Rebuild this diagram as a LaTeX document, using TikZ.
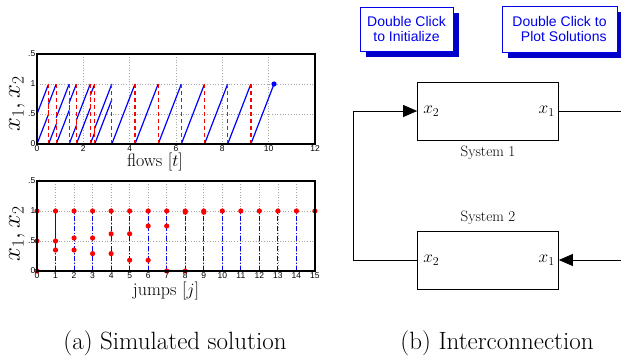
\documentclass[tikz,border=0pt]{standalone}
\usepackage{fontspec}
\newfontfamily\arialfont{Liberation Sans}
\usetikzlibrary{positioning}
\usetikzlibrary{arrows.meta}
\usetikzlibrary{shadows}
\definecolor{btnblue}{RGB}{0,0,235}
\definecolor{btnshade}{RGB}{0,0,200}
\definecolor{plotblue}{RGB}{0,0,255}
\definecolor{plotred}{RGB}{255,0,0}
\tikzset{
  gridline/.style={gray!70, dotted, line width=0.7pt},
  frameline/.style={black, line width=1.4pt},
  flowline/.style={plotblue, line width=1.2pt},
  resetline/.style={plotred, dashed, dash pattern=on 4pt off 3pt, line width=1.3pt},
  jumpflow/.style={plotblue, dash pattern=on 5pt off 2pt on 1pt off 2pt, line width=1.1pt},
  jumpdot/.style={plotred},
  ticklbl/.style={font=\arialfont\fontsize{8.5}{9}\selectfont, inner sep=1.5pt},
  axlbl/.style={font=\fontsize{18}{20}\selectfont, inner sep=0pt},
  ylbl/.style={font=\fontsize{23}{25}\selectfont, inner sep=0pt, rotate=90},
  sysblock/.style={draw, line width=0.7pt, minimum width=141pt, minimum height=58pt, inner sep=0pt},
  portlbl/.style={font=\fontsize{18}{20}\selectfont, inner sep=0pt},
  syslbl/.style={font=\fontsize{15}{17}\selectfont, inner sep=0pt},
  wire/.style={line width=0.7pt},
  btn/.style={draw=btnblue, line width=0.8pt, fill=white, text=btnblue,
    font=\arialfont\fontsize{14}{15.5}\selectfont, inner sep=0pt,
    drop shadow={shadow xshift=6pt, shadow yshift=-6pt, fill=btnshade, opacity=1}},
  capt/.style={font=\fontsize{25}{29}\selectfont, inner sep=0pt}
}
\begin{document}
\begin{tikzpicture}[x=1pt,y=-1pt]
\useasboundingbox (0,0) rectangle (621,362);
\clip (0,0) rectangle (621,362);

\begin{scope}[shift={(37,144)},x=23.17pt,y=60pt]
  \foreach \t in {2,4,...,10}
    \draw[gridline] (\t,0) -- (\t,1.5);
  \foreach \v in {0.5,1}
    \draw[gridline] (0,\v) -- (12,\v);
  \foreach \a/\b/\c/\d in {0/0.5/0.5/1, 0/0/0.5/0.5, 0.5/0/0.83/0.33, 0.5/0.67/0.83/1,
      0.83/0.44/1.39/1, 0.83/0/1.39/0.56, 1.39/0/1.7/0.31, 1.39/0.69/1.7/1,
      1.7/0.4/2.3/1, 1.7/0/2.3/0.6, 2.3/0/2.49/0.19, 2.3/0.81/2.49/1,
      2.49/0.26/3.23/1, 2.49/0/3.23/0.74, 3.23/0/4.23/1, 4.23/0/5.23/1,
      5.23/0/6.23/1, 6.23/0/7.23/1, 7.23/0/8.23/1, 8.23/0/9.23/1, 9.23/0/10.23/1}
    \draw[flowline] (\a,\b) -- (\c,\d);
  \foreach \t/\b/\c in {0.5/1/0, 0.5/0.5/0.67, 0.83/1/0, 0.83/0.33/0.44,
      1.39/1/0, 1.39/0.56/0.69, 1.7/1/0, 1.7/0.31/0.4, 2.3/1/0, 2.3/0.6/0.81,
      2.49/1/0, 2.49/0.19/0.26, 3.23/1/0, 4.23/1/0, 5.23/1/0, 6.23/1/0,
      7.23/1/0, 8.23/1/0, 9.23/1/0}
    \draw[resetline] (\t,\b) -- (\t,\c);
  \fill[plotblue] (10.23,1) circle[radius=2.6pt];
  \draw[frameline] (0,0) rectangle (12,1.5);
  \foreach \t in {0,2,...,12}
    \node[ticklbl, below] at (\t,0) {\t};
  \foreach \v/\l in {0/0, 0.5/.5, 1/1, 1.5/.5}
    \node[ticklbl, left] at (0,\v) {\l};
\end{scope}
\node[axlbl] (flowlbl) at (155,162) {flows [$t$]};
\node[ylbl] (ylbl1) at (17,104) {$x_1, x_2$};

\begin{scope}[shift={(37,271)},x=18.53pt,y=60pt]
  \foreach \j in {1,...,14}
    \draw[gridline] (\j,0) -- (\j,1.5);
  \foreach \v in {0.5,1}
    \draw[gridline] (0,\v) -- (15,\v);
  \draw[flowline] (0,0) -- (0,1);
  \draw[flowline] (1,0.35) -- (1,1);
  \foreach \j in {1,...,14}
    \draw[jumpflow] (\j,0) -- (\j,1);
  \foreach \j/\v in {0/0, 0/0.5, 0/1, 1/1, 1/0.5, 1/0.35, 2/1, 2/0.55, 2/0.35,
      3/1, 3/0.55, 3/0.29, 4/1, 4/0.62, 4/0.29, 5/1, 5/0.62, 5/0.18,
      6/1, 6/0.75, 6/0.18, 7/1, 7/0.75, 7/0, 8/1, 8/0.98, 8/0, 9/1, 9/0.98,
      10/1, 11/1, 12/1, 13/1, 14/1, 15/1}
    \fill[jumpdot] (\j,\v) circle[radius=2.6pt];
  \draw[frameline] (0,0) rectangle (15,1.5);
  \foreach \j in {0,...,15}
    \node[ticklbl, below] at (\j,0) {\j};
  \foreach \v/\l in {0/0, 0.5/.5, 1/1, 1.5/.5}
    \node[ticklbl, left] at (0,\v) {\l};
\end{scope}
\node[axlbl] (jumplbl) at (166,291) {jumps [$j$]};
\node[ylbl] (ylbl2) at (17,234) {$x_1, x_2$};

\node[btn, align=center, minimum width=93pt, minimum height=44pt] (b1) at (406.5,29) {Double Click\\to Initialize};
\node[btn, align=right, minimum width=115pt, minimum height=46pt] (b2) at (559.5,29) {Double Click to\\Plot Solutions};

\node[sysblock] (s1) at (488,111) {};
\node[sysblock] (s2) at (488,260) {};
\node[portlbl, right=6pt of s1.west] (s1x2) {$x_2$};
\node[portlbl, left=4pt of s1.east] (s1x1) {$x_1$};
\node[portlbl, right=6pt of s2.west] (s2x2) {$x_2$};
\node[portlbl, left=4pt of s2.east] (s2x1) {$x_1$};
\node[syslbl, below=5pt of s1] (s1name) {System 1};
\node[syslbl, above=6pt of s2] (s2name) {System 2};

\coordinate[right=80pt of s1.east] (rt);
\coordinate[left=64pt of s2.west] (lt);
\draw[wire, -{Triangle[length=14pt,width=12pt]}] (s1.east) -- (rt) |- (s2.east);
\draw[wire, -{Triangle[length=14pt,width=12pt]}] (s2.west) -- (lt) |- (s1.west);

\node[capt] (capa) at (175,343) {(a) Simulated solution};
\node[capt] (capb) at (497,343) {(b) Interconnection};
\end{tikzpicture}
\end{document}
